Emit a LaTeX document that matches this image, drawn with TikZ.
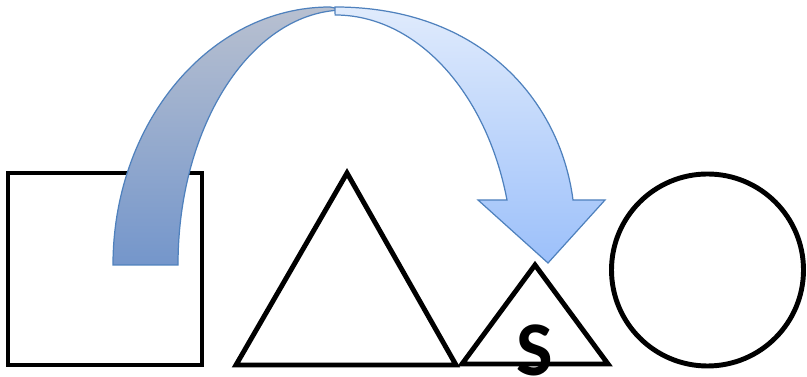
\documentclass[tikz,border=0pt]{standalone}
\usepackage{fontspec}
\newfontfamily\shapefont{Carlito}

\definecolor{arrowline}{RGB}{79,129,189}
\definecolor{backtop}{RGB}{184,192,208}
\definecolor{backbot}{RGB}{116,150,203}
\definecolor{fronttop}{RGB}{224,235,252}
\definecolor{frontbot}{RGB}{156,192,250}

\tikzset{
    shape line/.style={line width=2.8pt, black},
    band/.style={draw=arrowline, line width=0.7pt}
}

\begin{document}
\begin{tikzpicture}[x=0.02cm,y=0.02cm]

    \useasboundingbox (0,0) rectangle (807,377);

    % square
    \draw[shape line] (8,12) rectangle (202,204);

    % big triangle
    \draw[shape line] (236,12) -- (347,204) -- (456,12) -- cycle;

    % small triangle
    \draw[shape line] (462,13) -- (535,112) -- (608,13) -- cycle;
    \node[font=\shapefont\bfseries\fontsize{44}{44}\selectfont] (s) at (535,27) {S};

    % circle
    \draw[shape line] (707.5,107) circle (96);

    % arrow, back part
    \shadedraw[band, top color=backtop, bottom color=backbot]
        (113,112) arc[start angle=180, end angle=90, x radius=217, y radius=258]
        -- (345,367) arc[start angle=90, end angle=180, x radius=167, y radius=255]
        -- cycle;

    % arrow, front part with head
    \shadedraw[band, top color=fronttop, bottom color=frontbot]
        (335,370) .. controls (480,370) and (560,277) .. (573,177)
        -- (605,177) -- (548,114) -- (478,177) -- (507,177)
        arc[start angle=15.07, end angle=90, x radius=178, y radius=250]
        -- cycle;

\end{tikzpicture}
\end{document}
